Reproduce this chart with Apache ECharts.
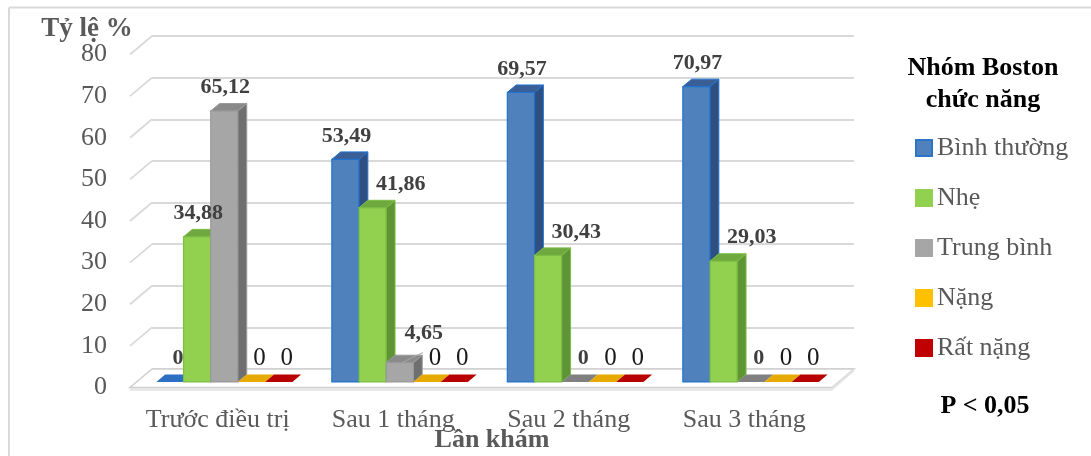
<!DOCTYPE html>
<html>
<head>
<meta charset="utf-8">
<script src="https://cdn.jsdelivr.net/npm/echarts@6/dist/echarts.min.js"></script>
<style>
  html, body { margin: 0; padding: 0; background: #ffffff; }
  #chart { width: 1091px; height: 456px; }
</style>
</head>
<body>
<div id="chart"></div>
<script>
// ---- data ----
const categories = ['Trước điều trị', 'Sau 1 tháng', 'Sau 2 tháng', 'Sau 3 tháng'];
const binhThuong = [0, 53.49, 69.57, 70.97];
const nhe = [34.88, 41.86, 30.43, 29.03];
const trungBinh = [65.12, 4.65, 0, 0];
const nang = [0, 0, 0, 0];
const ratNang = [0, 0, 0, 0];
const yTicks = [0, 10, 20, 30, 40, 50, 60, 70, 80];
const seriesNames = ['Bình thường', 'Nhẹ', 'Trung bình', 'Nặng', 'Rất nặng'];
const seriesValues = [binhThuong, nhe, trungBinh, nang, ratNang];

// ---- look ----
const FONT = '"Liberation Serif", "Times New Roman", serif';
const palette = [
  { front: '#4f81bd', side: '#2f4f80', top: '#3a5e96', flat: '#2d6fc2', stroke: '#2273d0', legendBorder: '#2e75c8' },
  { front: '#92d050', side: '#5f9435', top: '#6ea83e', flat: '#6ea83e', stroke: '#7cbf44', legendBorder: '#92d050' },
  { front: '#a6a6a6', side: '#6f6f6f', top: '#8a8a8a', flat: '#808080', stroke: '#9a9a9a', legendBorder: '#a6a6a6' },
  { front: '#ffc000', side: '#c99700', top: '#e0a800', flat: '#e6aa00', stroke: '#f0b400', legendBorder: '#ffc000' },
  { front: '#c00000', side: '#860000', top: '#a60000', flat: '#b80000', stroke: '#b00000', legendBorder: '#c00000' }
];
const boldLabel = [true, true, true, false, false];

// depth of the floor in screen pixels (front edge -> back wall)
const DX = 22, DY = -18.5;
// the bar slab sits inside the floor depth
const F_FRONT = 0.3, F_DEPTH = 0.4;
const GROUP_FRAC = 0.775;
const BAR_FRAC = GROUP_FRAC / 5;

function fmt(v) {
  return v === 0 ? '0' : v.toFixed(2).replace('.', ',');
}

function barRenderer(s) {
  const c = palette[s];
  const zBar = 10 + s * 5;   // later bars cover the side faces of earlier ones
  return function (params, api) {
    const cat = api.value(0);
    const val = api.value(1);
    const base = api.coord([cat, 0]);
    const topPt = api.coord([cat, val]);
    const band = api.size([1, 0])[0];
    const w = band * BAR_FRAC;
    const ox = F_FRONT * DX, oy = F_FRONT * DY;
    const bx = F_DEPTH * DX, by = F_DEPTH * DY;
    const L = base[0] - band * GROUP_FRAC / 2 + s * w + ox;
    const R = L + w;
    const yb = base[1] + oy;
    const yt = topPt[1] + oy;
    const children = [];

    if (val > 0) {
      children.push({
        type: 'rect', z2: zBar,
        shape: { x: L, y: yt, width: w, height: yb - yt },
        style: { fill: c.front, stroke: c.stroke, lineWidth: 1.2 }
      });
      children.push({
        type: 'polygon', z2: zBar,
        shape: { points: [[R, yt], [R + bx, yt + by], [R + bx, yb + by], [R, yb]] },
        style: { fill: c.side, stroke: c.stroke, lineWidth: 1 }
      });
      children.push({
        type: 'polygon', z2: zBar,
        shape: { points: [[L, yt], [L + bx, yt + by], [R + bx, yt + by], [R, yt]] },
        style: { fill: c.top, stroke: c.stroke, lineWidth: 1 }
      });
    } else {
      children.push({
        type: 'polygon', z2: zBar,
        shape: { points: [[L, yb], [L + bx, yb + by], [R + bx, yb + by], [R, yb]] },
        style: { fill: c.flat }
      });
    }

    // value label above the back edge of the bar top
    let lx = (L + R) / 2 + (val === 0 ? 8 : 1);
    let ly = yt + by - 16;
    // Nhẹ labels after treatment sit one bar to the right, clear of the taller blue bar
    if (s === 1 && cat > 0) lx += w;
    // the small 4,65 label is lifted aside with a leader line
    if (s === 2 && val > 0 && val < 10) {
      const fx = (L + R) / 2;
      lx += 23; ly -= 6;
      children.push({
        type: 'line', z2: 200,
        shape: { x1: fx + 2, y1: yt, x2: fx + 23, y2: yt - 10 },
        style: { stroke: '#a6a6a6', lineWidth: 1 }
      });
    }
    children.push({
      type: 'text', z2: 300,
      style: {
        text: fmt(val),
        x: lx, y: ly,
        align: 'center', verticalAlign: 'middle',
        fontFamily: FONT,
        fontSize: boldLabel[s] ? 22 : 25,
        fontWeight: boldLabel[s] ? 'bold' : 'normal',
        fill: boldLabel[s] ? '#404040' : '#1a1a1a'
      }
    });
    return { type: 'group', children: children };
  };
}

// side-wall stubs for each grid line and the floor plate at zero
function frameRenderer(params, api) {
  const cs = params.coordSys;
  const v = api.value(1);
  const y = api.coord([0, v])[1];
  const L = cs.x, W = cs.width;
  if (v === 0) {
    return {
      type: 'group',
      children: [
        {
          type: 'polygon',
          shape: { points: [[L, y], [L + W, y], [L + W + DX, y + DY], [L + DX, y + DY]] },
          style: { fill: '#ffffff', stroke: '#d0d0d0', lineWidth: 1.5 }
        },
        {
          type: 'rect',
          shape: { x: L, y: y + 0.8, width: W, height: 2.5 },
          style: { fill: '#e4e4e4' }
        },
        {
          type: 'polygon',
          shape: { points: [[L + W, y], [L + W + DX, y + DY], [L + W + DX, y + DY + 2.5], [L + W, y + 3.3]] },
          style: { fill: '#e4e4e4' }
        }
      ]
    };
  }
  return {
    type: 'line',
    shape: { x1: L, y1: y, x2: L + DX, y2: y + DY },
    style: { stroke: '#d9d9d9', lineWidth: 1.8 }
  };
}

const barSeries = seriesNames.map((name, s) => ({
  name: name,
  type: 'custom',
  xAxisIndex: 1,
  yAxisIndex: 1,
  z: 3,
  clip: false,
  itemStyle: { color: palette[s].front, borderColor: palette[s].legendBorder, borderWidth: 1.5 },
  encode: { x: 0, y: 1 },
  data: seriesValues[s].map((v, i) => [i, v]),
  renderItem: barRenderer(s)
}));

const chart = echarts.init(document.getElementById('chart'), null, { renderer: 'canvas' });
chart.setOption({
  animation: false,
  backgroundColor: '#ffffff',
  grid: [
    // back wall
    { left: 152, right: 237, top: 36, bottom: 87, outerBoundsMode: 'none', containLabel: false },
    // front plane
    { left: 130, right: 259, top: 54.5, bottom: 68.5, outerBoundsMode: 'none', containLabel: false }
  ],
  xAxis: [
    { gridIndex: 0, type: 'category', data: categories, show: false },
    {
      gridIndex: 1, type: 'category', data: categories,
      axisLine: { show: false }, axisTick: { show: false },
      axisLabel: { interval: 0, margin: 20, fontFamily: FONT, fontSize: 26, color: '#595959' },
      splitLine: { show: false }
    }
  ],
  yAxis: [
    {
      gridIndex: 0, type: 'value', min: 0, max: 80, interval: 10,
      axisLine: { show: false }, axisTick: { show: false }, axisLabel: { show: false },
      splitLine: { show: true, lineStyle: { color: '#d9d9d9', width: 1.8 } }
    },
    {
      gridIndex: 1, type: 'value', min: 0, max: 80, interval: 10,
      axisLine: { show: false }, axisTick: { show: false },
      splitLine: { show: false },
      axisLabel: {
        margin: 23, fontFamily: FONT, fontSize: 26, color: '#595959',
        padding: [0, 0, 7, 0]
      }
    }
  ],
  legend: {
    data: seriesNames,
    orient: 'vertical',
    left: 910,
    top: 130,
    icon: 'rect',
    itemWidth: 16,
    itemHeight: 16,
    itemGap: 24,
    selectedMode: false,
    textStyle: { fontFamily: FONT, fontSize: 26, color: '#595959', lineHeight: 26 }
  },
  graphic: [
    { type: 'line', shape: { x1: 9, y1: 7.5, x2: 1091, y2: 7.5 }, style: { stroke: '#d9d9d9', lineWidth: 2 } },
    { type: 'line', shape: { x1: 9, y1: 7.5, x2: 9, y2: 456 }, style: { stroke: '#d9d9d9', lineWidth: 2 } },
    {
      type: 'text', x: 87, y: 29,
      style: { text: 'Tỷ lệ %', align: 'center', verticalAlign: 'middle', fontFamily: FONT, fontSize: 27, fontWeight: 'bold', fill: '#595959' }
    },
    {
      type: 'text', x: 492, y: 440,
      style: { text: 'Lần khám', align: 'center', verticalAlign: 'middle', fontFamily: FONT, fontSize: 26, fontWeight: 'bold', fill: '#595959' }
    },
    {
      type: 'text', x: 983, y: 84,
      style: { text: 'Nhóm Boston\nchức năng', align: 'center', verticalAlign: 'middle', lineHeight: 32, fontFamily: FONT, fontSize: 26, fontWeight: 'bold', fill: '#000000' }
    },
    {
      type: 'text', x: 985, y: 406,
      style: { text: 'P < 0,05', align: 'center', verticalAlign: 'middle', fontFamily: FONT, fontSize: 26, fontWeight: 'bold', fill: '#000000' }
    }
  ],
  series: [
    {
      type: 'custom',
      xAxisIndex: 1,
      yAxisIndex: 1,
      z: 1,
      silent: true,
      clip: false,
      encode: { x: 0, y: 1 },
      data: yTicks.map(v => [0, v]),
      renderItem: frameRenderer
    }
  ].concat(barSeries)
});
</script>
</body>
</html>
